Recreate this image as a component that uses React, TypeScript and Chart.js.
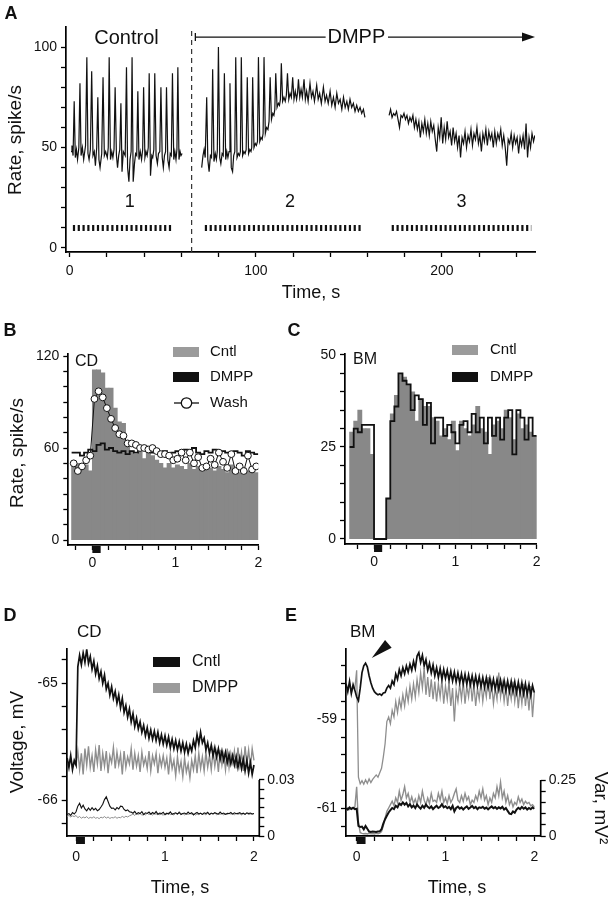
import React, { useEffect, useRef } from "react";
import { Chart, registerables } from "chart.js";
Chart.register(...registerables);

const FONT = "'Liberation Sans', Arial, Helvetica, sans-serif";
const BOLD_FONT = "'Liberation Sans Narrow', 'Liberation Sans', Arial, sans-serif";
const INK = "#111111";
const GREY_BAR = "#888888";
const GREY_LEG = "#9b9b9b";
const GREY_LINE = "#8e8e8e";
Chart.defaults.font.family = FONT;
Chart.defaults.color = INK;

// ---------------- Panel A: rate over time ([time s, rate]) ----------------
const A_SEG1 = [[0.7,48],[1.2,51],[1.8,46],[2.4,73],[3.0,45],[3.6,49],[4.2,44],[4.9,50],[5.5,82],[6.1,46],[6.8,50],[7.5,44],[8.5,51],[9.2,95],[9.8,47],[10.4,44],[11.1,49],[11.8,88],[12.5,46],[13.2,48],[13.8,41],[14.5,50],[15.1,75],[15.7,44],[16.3,40],[17.2,47],[17.9,85],[18.6,46],[19.3,48],[20.2,45],[20.7,50],[21.2,95],[21.9,44],[22.6,48],[23.2,45],[23.8,49],[24.4,80],[25.1,46],[25.7,40],[26.3,46],[26.9,49],[27.5,72],[28.1,38],[28.8,48],[29.8,46],[30.5,90],[31.1,40],[31.8,33],[32.4,44],[33.0,48],[33.5,95],[34.1,33],[34.8,42],[35.4,47],[36.0,46],[36.6,78],[37.2,44],[37.9,48],[38.6,44],[39.2,49],[39.7,80],[40.4,45],[41.0,48],[41.6,46],[42.2,50],[42.7,87],[43.4,36],[44.1,46],[44.6,45],[45.2,49],[45.7,87],[46.4,46],[47.1,42],[47.7,47],[48.4,48],[49.0,80],[49.7,45],[50.3,40],[50.9,46],[51.5,48],[52.0,80],[52.7,44],[53.4,40],[54.0,47],[54.6,46],[55.2,87],[55.9,44],[56.5,48],[57.1,44],[57.6,49],[58.1,90],[58.7,44],[59.3,48],[59.8,46],[60.4,47]];
const A_SEG2 = [[70.9,40],[71.6,46],[72.2,49],[72.8,45],[73.6,75],[74.2,44],[74.9,38],[75.6,46],[76.2,45],[76.8,89],[77.5,43],[78.2,47],[78.8,44],[79.3,48],[79.9,100],[80.6,45],[81.2,42],[81.9,47],[82.5,46],[83.1,87],[83.8,44],[84.4,48],[85.0,45],[85.6,48],[86.1,82],[86.8,40],[87.5,38],[88.1,46],[88.7,48],[89.2,95],[89.9,45],[90.6,47],[91.2,46],[91.7,48],[92.2,95],[92.9,46],[93.6,48],[94.2,47],[94.8,49],[95.4,85],[96.1,47],[96.8,49],[97.4,48],[97.8,50],[98.3,85],[99.0,50],[99.7,52],[100.3,51],[100.9,53],[101.4,95],[102.1,53],[102.8,55],[103.4,54],[103.9,57],[104.4,95],[105.1,57],[105.8,60],[106.5,59],[107.1,63],[107.7,85],[108.4,64],[109.1,67],[109.7,66],[110.2,69],[110.7,87],[111.4,70],[112.1,72],[112.7,71],[113.2,74],[113.7,92],[114.4,73],[115.1,75],[115.8,73],[116.4,76],[117.0,87],[117.7,74],[118.4,77],[119.1,75],[119.8,85],[120.5,74],[121.2,78],[121.9,74],[122.4,77],[122.9,84],[123.6,75],[124.3,79],[125.0,75],[125.9,84],[126.6,74],[127.3,78],[128.1,73],[129.1,82],[129.9,75],[130.7,78],[131.5,73],[132.7,81],[133.5,74],[134.3,77],[135.2,72],[136.3,80],[137.2,73],[138.0,76],[138.9,72],[139.9,78],[140.8,71],[141.7,75],[142.6,70],[143.5,77],[144.4,72],[145.3,74],[146.2,69],[147.1,75],[148.0,70],[148.9,73],[149.7,69],[150.6,74],[151.5,70],[152.4,72],[153.3,68],[154.2,71],[155.1,68],[156.0,70],[156.9,67],[157.8,69],[158.6,65]];
const A_SEG3 = [[171.6,66],[172.4,69],[173.2,65],[174.0,67],[174.8,66],[175.6,68],[176.4,64],[177.2,60],[178.0,66],[178.8,65],[179.6,67],[180.4,64],[181.2,66],[182.0,62],[182.8,65],[183.6,63],[184.4,66],[185.2,60],[186.0,64],[186.8,59],[187.6,63],[188.4,55],[189.2,62],[190.0,58],[190.8,64],[191.6,57],[192.4,62],[193.2,56],[194.0,63],[194.8,58],[195.6,61],[196.4,54],[197.2,48],[198.0,60],[198.8,55],[199.6,65],[200.4,52],[201.2,60],[202.0,54],[202.8,63],[203.6,55],[204.4,58],[205.2,51],[206.0,60],[206.8,53],[207.6,57],[208.4,50],[209.2,56],[210.0,45],[210.8,55],[211.6,52],[212.4,58],[213.2,50],[214.0,56],[214.8,53],[215.6,59],[216.4,51],[217.2,57],[218.0,54],[218.8,60],[219.6,52],[220.4,56],[221.2,48],[222.0,57],[222.8,53],[223.6,59],[224.4,51],[225.2,58],[226.0,54],[226.8,57],[227.6,50],[228.4,58],[229.2,52],[230.0,57],[230.8,54],[231.6,59],[232.4,51],[233.2,56],[234.0,50],[234.8,41],[235.6,54],[236.4,52],[237.2,57],[238.0,50],[238.8,56],[239.6,52],[240.4,55],[241.2,47],[242.0,55],[242.8,51],[243.6,56],[244.4,49],[245.2,62],[246.0,45],[246.8,55],[247.6,50],[248.4,57],[249.2,53],[249.9,56]];
const A_X_TICKS = [0, 20, 40, 60, 80, 100, 120, 140, 160, 180, 200, 220, 240];
const A_X_LABELS = [0, 100, 200];
const A_Y_TICKS = [0, 10, 20, 30, 40, 50, 60, 70, 80, 90, 100];
const A_Y_LABELS = [0, 50, 100];
const A_EPOCHS = [[1.7, 54.7], [72.6, 156.8], [173, 248]];
const A_EPOCH_NAMES = ["1", "2", "3"];
const A_EPOCH_LABEL_T = [32.2, 118.3, 210.5];
const A_DRUG_ONSET = 65.5;

// ---------------- Panels B, C: PSTH (bins of 0.05 s) ----------------
const BIN = 0.05;
const B_BIN_START = -0.25;
const B_CNTL = [48,50,47,49,45,111,111,109,99,99,86,77,76,65,58,56,60,53,58,55,52,50,47,50,47,49,48,46,50,46,48,45,49,47,45,48,46,44,49,46,44,47,45,46,44];
const B_DMPP = [57,57,55,57,59,58,62,63,59,60,58,57,58,56,58,57,59,61,58,57,58,57,58,56,57,58,56,59,57,60,57,56,58,57,59,56,58,57,56,58,57,55,58,57,56];
const B_WASH = [50,45,48,52,55,92,97,93,86,79,73,69,68,63,63,62,60,60,59,60,58,56,56,55,52,53,57,52,57,50,54,47,48,53,49,57,51,47,56,45,48,45,55,46,48];
const C_BIN_START = -0.3;
const C_CNTL = [29,32,35,30,30,23,0,0,0,11,34,39,45,44,42,40,32,38,36,36,33,32,28,30,27,32,24,32,30,28,31,36,30,29,23,31,32,30,35,33,27,34,30,31,29,28];
const C_DMPP = [25,30,29,31,31,31,0,0,0,11,32,36,45,43,42,35,39,38,31,37,26,33,33,28,31,29,26,31,32,29,34,29,33,26,33,28,33,27,33,35,23,35,33,27,33,28];
const BC_X_TICKS = [-0.2, 0, 0.2, 0.4, 0.6, 0.8, 1, 1.2, 1.4, 1.6, 1.8, 2];
const BC_X_LABELS = [0, 1, 2];
const B_Y_TICKS = [0, 10, 20, 30, 40, 50, 60, 70, 80, 90, 100, 110, 120];
const B_Y_LABELS = [0, 60, 120];
const C_Y_TICKS = [0, 5, 10, 15, 20, 25, 30, 35, 40, 45, 50];
const C_Y_LABELS = [0, 25, 50];
const STIM = [0, 0.1];

// ---------------- Panel D (CD): voltage and variance, sampled every 0.02 s from -0.1 s ----------------
const D_T0 = -0.1;
const DT = 0.02;
const D_CNTL = [
  -65.64,-65.72,-65.62,-65.74,-65.66,-65.70,-64.86,-64.76,-64.84,-64.74,
  -64.82,-64.71,-64.83,-64.77,-64.88,-64.81,-64.92,-64.85,-64.96,-64.90,
  -65.00,-64.93,-65.05,-65.00,-65.10,-65.03,-65.13,-65.07,-65.17,-65.10,
  -65.21,-65.13,-65.25,-65.19,-65.29,-65.22,-65.33,-65.26,-65.37,-65.30,
  -65.39,-65.33,-65.42,-65.36,-65.45,-65.38,-65.47,-65.40,-65.48,-65.41,
  -65.49,-65.42,-65.51,-65.44,-65.52,-65.45,-65.53,-65.46,-65.55,-65.48,
  -65.56,-65.49,-65.57,-65.50,-65.58,-65.51,-65.59,-65.52,-65.60,-65.53,
  -65.58,-65.49,-65.55,-65.44,-65.52,-65.42,-65.51,-65.47,-65.57,-65.51,
  -65.60,-65.53,-65.62,-65.55,-65.63,-65.56,-65.65,-65.58,-65.66,-65.59,
  -65.68,-65.61,-65.69,-65.62,-65.70,-65.63,-65.72,-65.64,-65.73,-65.65,
  -65.75,-65.66,-65.77,-65.68,-65.78,-65.70];
const D_DMPP = [
  -65.66,-65.70,-65.64,-65.72,-65.68,-65.70,-65.58,-65.74,-65.60,-65.78,
  -65.56,-65.70,-65.54,-65.72,-65.62,-65.76,-65.57,-65.69,-65.53,-65.75,
  -65.60,-65.71,-65.58,-65.77,-65.62,-65.68,-65.55,-65.73,-65.59,-65.70,
  -65.61,-65.78,-65.58,-65.72,-65.63,-65.69,-65.56,-65.74,-65.60,-65.71,
  -65.62,-65.76,-65.59,-65.70,-65.64,-65.73,-65.58,-65.75,-65.62,-65.69,
  -65.60,-65.77,-65.63,-65.71,-65.62,-65.72,-65.64,-65.78,-65.61,-65.73,
  -65.66,-65.79,-65.63,-65.75,-65.67,-65.80,-65.64,-65.76,-65.69,-65.81,
  -65.66,-65.74,-65.62,-65.77,-65.60,-65.73,-65.63,-65.75,-65.59,-65.72,
  -65.62,-65.74,-65.58,-65.71,-65.60,-65.76,-65.57,-65.70,-65.61,-65.74,
  -65.56,-65.72,-65.60,-65.68,-65.58,-65.73,-65.55,-65.70,-65.59,-65.75,
  -65.54,-65.69,-65.57,-65.72,-65.56,-65.66];
const D_VAR_CNTL = [
  0.0115,0.0120,0.0110,0.0125,0.0118,0.0130,0.0160,0.0175,0.0150,0.0165,
  0.0145,0.0135,0.0150,0.0138,0.0152,0.0140,0.0148,0.0135,0.0142,0.0155,
  0.0170,0.0195,0.0210,0.0185,0.0160,0.0148,0.0150,0.0140,0.0152,0.0145,
  0.0160,0.0158,0.0142,0.0135,0.0140,0.0130,0.0128,0.0122,0.0132,0.0118,
  0.0125,0.0120,0.0130,0.0115,0.0124,0.0121,0.0128,0.0117,0.0126,0.0119,
  0.0131,0.0116,0.0123,0.0120,0.0127,0.0114,0.0122,0.0118,0.0129,0.0116,
  0.0121,0.0124,0.0118,0.0126,0.0115,0.0120,0.0123,0.0117,0.0128,0.0119,
  0.0125,0.0113,0.0121,0.0126,0.0118,0.0122,0.0116,0.0124,0.0120,0.0127,
  0.0115,0.0123,0.0118,0.0125,0.0121,0.0117,0.0128,0.0119,0.0123,0.0116,
  0.0122,0.0120,0.0126,0.0117,0.0124,0.0119,0.0121,0.0125,0.0118,0.0122,
  0.0116,0.0124,0.0120,0.0123,0.0118,0.0121];
const D_VAR_DMPP = [
  0.0105,0.0110,0.0102,0.0108,0.0104,0.0110,0.0098,0.0105,0.0095,0.0102,
  0.0097,0.0104,0.0094,0.0100,0.0096,0.0103,0.0095,0.0099,0.0093,0.0101,
  0.0097,0.0104,0.0096,0.0102,0.0094,0.0099,0.0097,0.0103,0.0095,0.0100,
  0.0098,0.0105,0.0099,0.0106,0.0102,0.0108,0.0112,0.0118,0.0110,0.0120,
  0.0114,0.0121,0.0111,0.0117,0.0113,0.0122,0.0115,0.0119,0.0112,0.0120,
  0.0116,0.0123,0.0113,0.0118,0.0111,0.0121,0.0117,0.0124,0.0114,0.0119,
  0.0112,0.0122,0.0116,0.0131,0.0118,0.0121,0.0113,0.0119,0.0115,0.0122,
  0.0117,0.0120,0.0112,0.0118,0.0114,0.0121,0.0116,0.0119,0.0113,0.0122,
  0.0115,0.0120,0.0117,0.0123,0.0114,0.0119,0.0116,0.0121,0.0113,0.0118,
  0.0115,0.0122,0.0117,0.0120,0.0114,0.0121,0.0116,0.0119,0.0113,0.0120,
  0.0117,0.0122,0.0115,0.0118,0.0116,0.0120];
const DE_X_TICKS = [0, 0.2, 0.4, 0.6, 0.8, 1, 1.2, 1.4, 1.6, 1.8, 2];
const DE_X_LABELS = [0, 1, 2];
const D_Y_TICKS = [-66.2, -66, -65.8, -65.6, -65.4, -65.2, -65, -64.8];
const D_Y_LABELS = [-66, -65];
const D_Y2_TICKS = [0, 0.005, 0.01, 0.015, 0.02, 0.025, 0.03];
const D_Y2_LABELS = [0, 0.03];

// ---------------- Panel E (BM): sampled every 0.02 s from -0.12 s ----------------
const E_T0 = -0.12;
const E_CNTL = [
  -58.20,-58.38,-58.15,-58.42,-58.22,-58.35,-58.50,-58.58,-58.30,-57.95,
  -57.80,-57.74,-57.82,-58.02,-58.18,-58.30,-58.38,-58.42,-58.45,-58.43,
  -58.46,-58.41,-58.40,-58.30,-58.24,-58.30,-58.14,-58.22,-57.98,-58.10,
  -57.88,-58.02,-57.84,-57.98,-57.80,-57.94,-57.76,-57.90,-57.70,-57.86,
  -57.58,-57.50,-57.72,-57.56,-57.80,-57.66,-57.90,-57.74,-57.96,-57.78,
  -58.02,-57.84,-58.06,-57.86,-58.10,-57.88,-58.08,-57.90,-58.12,-57.92,
  -58.14,-57.94,-58.16,-57.96,-58.18,-57.98,-58.20,-57.99,-58.21,-58.00,
  -58.22,-58.02,-58.24,-58.03,-58.25,-58.04,-58.26,-58.06,-58.28,-58.07,
  -58.29,-58.08,-58.30,-58.10,-58.32,-58.11,-58.33,-58.12,-58.34,-58.13,
  -58.36,-58.14,-58.37,-58.15,-58.38,-58.16,-58.40,-58.17,-58.41,-58.18,
  -58.43,-58.20,-58.44,-58.22,-58.46,-58.24,-58.40];
const E_DMPP = [
  -58.25,-58.35,-58.20,-58.40,-58.28,-58.30,-57.90,-60.30,-60.45,-60.38,
  -60.46,-60.36,-60.44,-60.34,-60.42,-60.35,-60.30,-60.25,-60.30,-60.20,
  -60.10,-59.85,-59.55,-59.05,-58.95,-59.10,-58.80,-58.95,-58.60,-58.85,
  -58.55,-58.75,-58.45,-58.70,-58.35,-58.60,-58.25,-58.55,-58.20,-58.50,
  -58.10,-58.40,-57.95,-58.30,-57.85,-58.45,-58.05,-58.50,-58.10,-58.55,
  -58.15,-58.60,-58.20,-58.50,-58.10,-58.65,-58.25,-58.55,-58.15,-58.70,
  -58.30,-59.05,-58.35,-58.60,-58.20,-58.55,-58.15,-58.65,-58.25,-58.50,
  -58.10,-58.60,-58.20,-58.70,-58.30,-58.55,-58.15,-58.60,-58.25,-58.50,
  -58.05,-58.55,-58.20,-58.65,-58.30,-58.55,-57.95,-58.50,-58.20,-58.60,
  -58.25,-58.70,-58.30,-58.55,-58.15,-58.60,-58.25,-58.75,-58.30,-58.65,
  -58.20,-58.70,-58.35,-58.80,-58.25,-58.95,-58.40];
const E_VAR_CNTL = [
  0.124,0.118,0.128,0.121,0.126,0.120,0.122,0.045,0.040,0.042,
  0.030,0.045,0.032,0.020,0.018,0.020,0.019,0.018,0.020,0.021,
  0.030,0.055,0.075,0.090,0.105,0.115,0.125,0.120,0.135,0.128,
  0.145,0.138,0.150,0.140,0.148,0.132,0.142,0.128,0.136,0.125,
  0.140,0.130,0.122,0.135,0.126,0.140,0.130,0.124,0.132,0.120,
  0.128,0.135,0.125,0.130,0.142,0.128,0.133,0.124,0.130,0.120,
  0.135,0.110,0.125,0.131,0.122,0.128,0.118,0.126,0.132,0.121,
  0.127,0.134,0.124,0.130,0.120,0.128,0.125,0.130,0.122,0.127,
  0.119,0.126,0.132,0.124,0.129,0.121,0.128,0.123,0.130,0.118,
  0.125,0.112,0.100,0.098,0.110,0.104,0.118,0.126,0.120,0.130,
  0.122,0.128,0.118,0.125,0.120,0.128,0.122];
const E_VAR_DMPP = [
  0.120,0.126,0.118,0.124,0.122,0.130,0.220,0.060,0.015,0.012,
  0.010,0.011,0.009,0.012,0.010,0.011,0.009,0.012,0.010,0.013,
  0.020,0.045,0.080,0.110,0.125,0.140,0.155,0.135,0.170,0.150,
  0.200,0.160,0.185,0.220,0.170,0.190,0.150,0.175,0.145,0.165,
  0.140,0.180,0.150,0.200,0.160,0.140,0.170,0.145,0.190,0.155,
  0.160,0.150,0.190,0.160,0.200,0.150,0.170,0.145,0.180,0.150,
  0.165,0.190,0.210,0.160,0.150,0.180,0.155,0.190,0.160,0.175,
  0.140,0.160,0.150,0.180,0.160,0.200,0.170,0.210,0.160,0.180,
  0.140,0.170,0.150,0.190,0.170,0.220,0.180,0.240,0.170,0.200,
  0.150,0.180,0.140,0.160,0.130,0.150,0.140,0.175,0.150,0.165,
  0.140,0.155,0.145,0.150,0.135,0.140,0.130];
const E_Y_TICKS = [-61.4, -61, -60.6, -60.2, -59.8, -59.4, -59, -58.6, -58.2, -57.8];
const E_Y_LABELS = [-61, -59];
const E_Y2_TICKS = [0, 0.05, 0.1, 0.15, 0.2, 0.25];
const E_Y2_LABELS = [0, 0.25];

// ---------------- helpers ----------------
type Pt = { x: number; y: number };
const pairs = (arr: number[][]): Pt[] => arr.map(([x, y]) => ({ x, y }));
const sampled = (t0: number, dt: number, vals: number[]): Pt[] =>
  vals.map((v, i) => ({ x: Math.round((t0 + dt * i) * 10000) / 10000, y: v }));
const centers = (t0: number, w: number, vals: number[]): Pt[] =>
  vals.map((v, i) => ({ x: t0 + w * (i + 0.5), y: v }));
const stepPts = (t0: number, w: number, vals: number[]): Pt[] =>
  vals.flatMap((v, i) => [{ x: t0 + w * i, y: v }, { x: t0 + w * (i + 1), y: v }]);
const lbl = (vals: number[]) => (v: number) =>
  vals.some((x) => Math.abs(x - v) < 1e-9) ? String(v) : "";

const line = (data: Pt[], color: string, width: number, extra: any = {}) => ({
  type: "line", data, borderColor: color, borderWidth: width, pointRadius: 0,
  fill: false, tension: 0, ...extra,
});

function axis(o: any) {
  return {
    type: "linear", position: o.pos, min: o.min, max: o.max, offset: false,
    afterBuildTicks: (s: any) => { s.ticks = o.ticks.map((v: number) => ({ value: v })); },
    afterFit: (s: any) => { if (o.pos === "bottom") s.height = o.size; else s.width = o.size; },
    ticks: {
      autoSkip: false, maxRotation: 0, minRotation: 0, padding: o.pad ?? 3, color: INK,
      font: { family: FONT, size: 14 }, callback: (v: any) => o.label(Number(v)),
    },
    grid: { drawOnChartArea: false, drawTicks: true, tickLength: 5, tickColor: "#000", tickWidth: 1.3, offset: false },
    border: { display: o.border !== false, color: "#000", width: 1.7 },
  };
}

function base(padding: any, scales: any) {
  return {
    responsive: false, maintainAspectRatio: false, animation: false, devicePixelRatio: 1, events: [],
    layout: { padding },
    plugins: { legend: { display: false }, tooltip: { enabled: false }, title: { display: false } },
    scales,
  };
}

const txt = (ctx: CanvasRenderingContext2D, s: string, x: number, y: number, size: number, o: any = {}) => {
  ctx.save();
  ctx.font = `${o.bold ? "bold " : ""}${size}px ${o.family || FONT}`;
  ctx.fillStyle = o.color || INK;
  ctx.textAlign = o.align || "center";
  ctx.textBaseline = "middle";
  ctx.translate(x, y);
  if (o.rot) ctx.rotate(o.rot);
  ctx.fillText(s, 0, 0);
  ctx.restore();
};

const stimMark = (chart: any) => {
  const xs = chart.scales.x, a = chart.chartArea, ctx = chart.ctx;
  const x0 = xs.getPixelForValue(STIM[0]), x1 = xs.getPixelForValue(STIM[1]);
  ctx.save();
  ctx.fillStyle = INK;
  ctx.fillRect(x0, a.bottom + 1, x1 - x0, 7);
  ctx.restore();
};

const rightAxisLine = (chart: any, top: number) => {
  const ys = chart.scales.y2, a = chart.chartArea, ctx = chart.ctx;
  ctx.save();
  ctx.strokeStyle = "#000";
  ctx.lineWidth = 1.7;
  ctx.beginPath();
  ctx.moveTo(a.right, ys.getPixelForValue(0) + 0.8);
  ctx.lineTo(a.right, ys.getPixelForValue(top));
  ctx.stroke();
  ctx.restore();
};

const patch = (ctx: CanvasRenderingContext2D, x: number, y: number, w: number, h: number, c: string) => {
  ctx.save(); ctx.fillStyle = c; ctx.fillRect(x, y, w, h); ctx.restore();
};

const deco = (fn: (c: any) => void) => ({ id: "deco", afterDraw: fn });

// ---------------- chart configs ----------------
function makeA() {
  const datasets: any[] = [
    line(pairs(A_SEG1), INK, 1.2),
    line(pairs(A_SEG2), INK, 1.2),
    line(pairs(A_SEG3), INK, 1.2),
    line([{ x: A_DRUG_ONSET, y: -2 }, { x: A_DRUG_ONSET, y: 110 }], "#333", 1.2, { borderDash: [5, 4] }),
    ...A_EPOCHS.map(([a, b]) =>
      line([{ x: a, y: 10 }, { x: b, y: 10 }], INK, 6, { borderDash: [2.2, 2.6], borderCapStyle: "butt" })),
  ];
  return {
    type: "line",
    data: { datasets },
    options: base({ left: 0, right: 80, top: 27, bottom: 607 }, {
      x: axis({ pos: "bottom", min: -2, max: 250, ticks: A_X_TICKS, label: lbl(A_X_LABELS), size: 40, pad: 6 }),
      y: axis({ pos: "left", min: -2, max: 110, ticks: A_Y_TICKS, label: lbl(A_Y_LABELS), size: 66, pad: 4 }),
    }),
    plugins: [deco((chart: any) => {
      const ctx = chart.ctx, xs = chart.scales.x, ys = chart.scales.y;
      const X = (v: number) => xs.getPixelForValue(v), Y = (v: number) => ys.getPixelForValue(v);
      txt(ctx, "Control", X(30.5), Y(104.5), 20);
      txt(ctx, "DMPP", X(154), Y(105), 20);
      const ay = Y(105);
      ctx.save();
      ctx.strokeStyle = INK; ctx.lineWidth = 1.3;
      ctx.beginPath();
      ctx.moveTo(X(67.5), ay); ctx.lineTo(X(137.5), ay);
      ctx.moveTo(X(171), ay); ctx.lineTo(X(246), ay);
      ctx.moveTo(X(67.5), ay - 4); ctx.lineTo(X(67.5), ay + 4);
      ctx.stroke();
      ctx.fillStyle = INK;
      ctx.beginPath();
      ctx.moveTo(X(250), ay); ctx.lineTo(X(250) - 13, ay - 4.5); ctx.lineTo(X(250) - 13, ay + 4.5);
      ctx.closePath(); ctx.fill();
      ctx.restore();
      A_EPOCH_NAMES.forEach((n, i) => txt(ctx, n, X(A_EPOCH_LABEL_T[i]), Y(23), 18));
      txt(ctx, "Time, s", 311, 293, 18);
      txt(ctx, "Rate, spike/s", 16, 140, 19, { rot: -Math.PI / 2 });
      txt(ctx, "A", 11, 14, 18, { bold: true, family: BOLD_FONT });
    })],
  };
}

function makeB() {
  return {
    type: "line",
    data: {
      datasets: [
        {
          ...line(centers(B_BIN_START, BIN, B_WASH), INK, 1),
          pointRadius: 3.4, pointBackgroundColor: "#fff", pointBorderColor: INK, pointBorderWidth: 1, order: 0,
        },
        { ...line(stepPts(B_BIN_START, BIN, B_DMPP), INK, 1.8), order: 1 },
        {
          type: "bar", data: centers(B_BIN_START, BIN, B_CNTL), backgroundColor: GREY_BAR, borderWidth: 0,
          barPercentage: 1, categoryPercentage: 1, inflateAmount: 0.4, order: 2,
        },
      ],
    },
    options: base({ left: 0, right: 356.7, top: 353.7, bottom: 324 }, {
      x: axis({ pos: "bottom", min: -0.29, max: 2.0, ticks: BC_X_TICKS, label: lbl(BC_X_LABELS), size: 30, pad: 5 }),
      y: axis({ pos: "left", min: -3.26, max: 121.5, ticks: B_Y_TICKS, label: lbl(B_Y_LABELS), size: 68.3, pad: 4 }),
    }),
    plugins: [deco((chart: any) => {
      const ctx = chart.ctx;
      stimMark(chart);
      txt(ctx, "B", 10, 331, 18, { bold: true, family: BOLD_FONT });
      txt(ctx, "Rate, spike/s", 18, 453, 19, { rot: -Math.PI / 2 });
      txt(ctx, "CD", 75, 362, 16, { align: "left" });
      patch(ctx, 173, 347, 26, 10, GREY_LEG);
      txt(ctx, "Cntl", 210, 352, 15, { align: "left" });
      patch(ctx, 173, 372, 26, 10, INK);
      txt(ctx, "DMPP", 210, 377, 15, { align: "left" });
      ctx.save();
      ctx.strokeStyle = INK; ctx.lineWidth = 1.3;
      ctx.beginPath(); ctx.moveTo(174, 403); ctx.lineTo(199, 403); ctx.stroke();
      ctx.fillStyle = "#fff";
      ctx.beginPath(); ctx.arc(186.5, 403, 5.2, 0, Math.PI * 2); ctx.fill(); ctx.stroke();
      ctx.restore();
      txt(ctx, "Wash", 210, 403, 15, { align: "left" });
    })],
  };
}

function makeC() {
  return {
    type: "line",
    data: {
      datasets: [
        { ...line(stepPts(C_BIN_START, BIN, C_DMPP), INK, 1.8), order: 0 },
        {
          type: "bar", data: centers(C_BIN_START, BIN, C_CNTL), backgroundColor: GREY_BAR, borderWidth: 0,
          barPercentage: 1, categoryPercentage: 1, inflateAmount: 0.4, order: 1,
        },
      ],
    },
    options: base({ left: 285, right: 78.3, top: 353.5, bottom: 325 }, {
      x: axis({ pos: "bottom", min: -0.357, max: 2.0, ticks: BC_X_TICKS, label: lbl(BC_X_LABELS), size: 30, pad: 5 }),
      y: axis({ pos: "left", min: -1.36, max: 50.4, ticks: C_Y_TICKS, label: lbl(C_Y_LABELS), size: 60, pad: 4 }),
    }),
    plugins: [deco((chart: any) => {
      const ctx = chart.ctx;
      stimMark(chart);
      txt(ctx, "C", 294, 331, 18, { bold: true, family: BOLD_FONT });
      txt(ctx, "BM", 353, 360, 16, { align: "left" });
      patch(ctx, 452, 345, 26, 10, GREY_LEG);
      txt(ctx, "Cntl", 490, 350, 15, { align: "left" });
      patch(ctx, 452, 372, 26, 10, INK);
      txt(ctx, "DMPP", 490, 377, 15, { align: "left" });
    })],
  };
}

function makeD() {
  return {
    type: "line",
    data: {
      datasets: [
        { ...line(sampled(D_T0, DT, D_CNTL), INK, 1.7), yAxisID: "y", order: 0 },
        { ...line(sampled(D_T0, DT, D_VAR_CNTL), INK, 1.1), yAxisID: "y2", order: 1 },
        { ...line(sampled(D_T0, DT, D_DMPP), GREY_LINE, 1.4), yAxisID: "y", order: 2 },
        { ...line(sampled(D_T0, DT, D_VAR_DMPP), GREY_LINE, 1.0), yAxisID: "y2", order: 3 },
      ],
    },
    options: base({ left: 0, right: 305.7, top: 649.3, bottom: 33 }, {
      x: axis({ pos: "bottom", min: -0.105, max: 2.06, ticks: DE_X_TICKS, label: lbl(DE_X_LABELS), size: 30, pad: 8 }),
      y: axis({ pos: "left", min: -66.308, max: -64.709, ticks: D_Y_TICKS, label: lbl(D_Y_LABELS), size: 66.7, pad: 4 }),
      y2: axis({ pos: "right", min: 0, max: 0.1, ticks: D_Y2_TICKS, label: lbl(D_Y2_LABELS), size: 50, pad: 3, border: false }),
    }),
    plugins: [deco((chart: any) => {
      const ctx = chart.ctx;
      rightAxisLine(chart, 0.03);
      stimMark(chart);
      txt(ctx, "D", 10, 616, 18, { bold: true, family: BOLD_FONT });
      txt(ctx, "CD", 77, 632, 17, { align: "left" });
      txt(ctx, "Voltage, mV", 18, 742, 19, { rot: -Math.PI / 2 });
      txt(ctx, "Time, s", 180, 888, 18);
      patch(ctx, 153, 657, 27, 10, INK);
      txt(ctx, "Cntl", 192, 662, 16, { align: "left" });
      patch(ctx, 153, 683, 27, 10, GREY_LEG);
      txt(ctx, "DMPP", 192, 688, 16, { align: "left" });
    })],
  };
}

function makeE() {
  return {
    type: "line",
    data: {
      datasets: [
        { ...line(sampled(E_T0, DT, E_CNTL), INK, 1.7), yAxisID: "y", order: 0 },
        { ...line(sampled(E_T0, DT, E_VAR_CNTL), INK, 2.0), yAxisID: "y2", order: 1 },
        { ...line(sampled(E_T0, DT, E_DMPP), GREY_LINE, 1.3), yAxisID: "y", order: 2 },
        { ...line(sampled(E_T0, DT, E_VAR_DMPP), GREY_LINE, 1.4), yAxisID: "y2", order: 3 },
      ],
    },
    options: base({ left: 290, right: 34.3, top: 649.3, bottom: 33 }, {
      x: axis({ pos: "bottom", min: -0.12, max: 2.072, ticks: DE_X_TICKS, label: lbl(DE_X_LABELS), size: 30, pad: 8 }),
      y: axis({ pos: "left", min: -61.622, max: -57.427, ticks: E_Y_TICKS, label: lbl(E_Y_LABELS), size: 56, pad: 4 }),
      y2: axis({ pos: "right", min: 0, max: 0.8335, ticks: E_Y2_TICKS, label: lbl(E_Y2_LABELS), size: 40, pad: 3, border: false }),
    }),
    plugins: [deco((chart: any) => {
      const ctx = chart.ctx, xs = chart.scales.x, ys = chart.scales.y;
      const X = (v: number) => xs.getPixelForValue(v), Y = (v: number) => ys.getPixelForValue(v);
      rightAxisLine(chart, 0.25);
      stimMark(chart);
      txt(ctx, "E", 291, 616, 18, { bold: true, family: BOLD_FONT });
      txt(ctx, "BM", 350, 632, 17, { align: "left" });
      txt(ctx, "Time, s", 457, 888, 18);
      txt(ctx, "Var, mV²", 600, 808, 19, { rot: Math.PI / 2 });
      ctx.save();
      ctx.fillStyle = INK;
      ctx.beginPath();
      ctx.moveTo(X(0.17), Y(-57.62));
      ctx.lineTo(X(0.32), Y(-57.22));
      ctx.lineTo(X(0.394), Y(-57.39));
      ctx.closePath();
      ctx.fill();
      ctx.restore();
    })],
  };
}

function ChartCanvas({ make }: { make: () => any }) {
  const ref = useRef<HTMLCanvasElement>(null);
  useEffect(() => {
    const chart = new Chart(ref.current as HTMLCanvasElement, make());
    return () => chart.destroy();
  }, []);
  return (
    <canvas ref={ref} width={615} height={899}
      style={{ position: "absolute", left: 0, top: 0, width: 615, height: 899 }} />
  );
}

export default function App() {
  return (
    <div style={{ position: "absolute", left: 0, top: 0, width: 615, height: 899, background: "#fff", overflow: "hidden" }}>
      <ChartCanvas make={makeA} />
      <ChartCanvas make={makeB} />
      <ChartCanvas make={makeC} />
      <ChartCanvas make={makeD} />
      <ChartCanvas make={makeE} />
    </div>
  );
}
